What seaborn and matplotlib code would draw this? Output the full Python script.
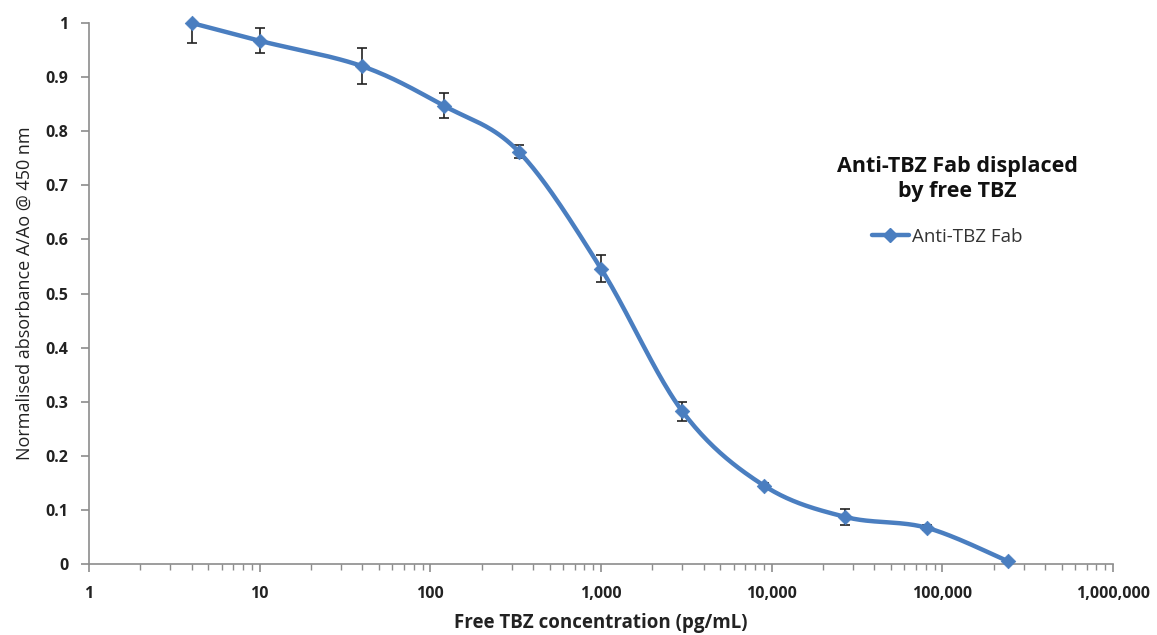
import numpy as np
import pandas as pd
import matplotlib
matplotlib.use("Agg")
import matplotlib.pyplot as plt
import seaborn as sns
from matplotlib.lines import Line2D
from matplotlib.ticker import FixedLocator, FuncFormatter, LogLocator, NullFormatter

# ---- data ----
conc = [4, 10, 40, 120, 330, 1000, 3000, 9000, 27000, 81000, 243000]
absorb = [1.0, 0.967, 0.920, 0.847, 0.762, 0.546, 0.282, 0.145, 0.087, 0.067, 0.005]
err = [0.037, 0.023, 0.033, 0.023, 0.012, 0.025, 0.018, 0.005, 0.014, 0.005, 0.002]
series_name = "Anti-TBZ Fab"
title_text = "Anti-TBZ Fab displaced\nby free TBZ"
x_label = "Free TBZ concentration (pg/mL)"
y_label = "Normalised absorbance A/Ao @ 450 nm"
y_ticks = [0, 0.1, 0.2, 0.3, 0.4, 0.5, 0.6, 0.7, 0.8, 0.9, 1]
x_ticks = [1, 10, 100, 1000, 10000, 100000, 1000000]

sns.set_theme(style="white")
plt.rcParams["font.family"] = ["Open Sans", "DejaVu Sans"]

W, H = 1157, 635
fig = plt.figure(figsize=(W / 100, H / 100), dpi=100)
ax = fig.add_axes([89 / W, 1 - 564 / H, (1113 - 89) / W, (564 - 23) / H])
ax.set_xscale("log")
ax.set_xlim(1, 1e6)
ax.set_ylim(0, 1)

blue = "#4A7EC0"

# smooth curve (Excel-style Bezier smoothing) in approximate pixel space
aw, ah = 1113 - 89, 564 - 23
u = np.log10(conc) / 6 * aw
v = np.array(absorb) * ah
pts = np.column_stack([u, v])
n = len(pts)
curve = []
for i in range(n - 1):
    p0 = pts[i - 1] if i > 0 else pts[i]
    p1 = pts[i]
    p2 = pts[i + 1]
    p3 = pts[i + 2] if i + 2 < n else pts[i + 1]
    c1 = p1 + (p2 - p0) / 6
    c2 = p2 - (p3 - p1) / 6
    t = np.linspace(0, 1, 40)[:, None]
    seg = (1 - t) ** 3 * p1 + 3 * (1 - t) ** 2 * t * c1 + 3 * (1 - t) * t ** 2 * c2 + t ** 3 * p2
    curve.append(seg if i == 0 else seg[1:])
curve = np.vstack(curve)
smooth = pd.DataFrame({"x": 10 ** (curve[:, 0] / aw * 6), "y": curve[:, 1] / ah})

ax.errorbar(conc, absorb, yerr=err, fmt="none", ecolor="#222222", elinewidth=1.2,
            capsize=3.5, capthick=1.2, zorder=2, clip_on=True)
sns.lineplot(data=smooth, x="x", y="y", ax=ax, color=blue, linewidth=3.2,
             sort=False, estimator=None, zorder=3)
df = pd.DataFrame({"x": conc, "y": absorb})
sns.scatterplot(data=df, x="x", y="y", ax=ax, color=blue, marker="D", s=55,
                edgecolor=blue, linewidth=0.5, zorder=4, clip_on=False)

# axes styling
for s in ["top", "right"]:
    ax.spines[s].set_visible(False)
for s in ["left", "bottom"]:
    ax.spines[s].set_color("#8C8C8C")
    ax.spines[s].set_linewidth(1.2)
ax.xaxis.set_major_locator(FixedLocator(x_ticks))
ax.xaxis.set_minor_locator(LogLocator(base=10, subs=np.arange(2, 10)))
ax.xaxis.set_minor_formatter(NullFormatter())
ax.xaxis.set_major_formatter(FuncFormatter(lambda v, p: f"{int(round(v)):,}"))
ax.yaxis.set_major_locator(FixedLocator(y_ticks))
ax.yaxis.set_major_formatter(FuncFormatter(lambda v, p: f"{v:g}"))
ax.tick_params(axis="x", which="major", direction="out", length=6, width=1.2,
               color="#8C8C8C", bottom=True, pad=10)
ax.tick_params(axis="x", which="minor", direction="out", length=4, width=1,
               color="#8C8C8C", bottom=True)
ax.tick_params(axis="y", which="major", direction="out", length=6, width=1.2,
               color="#8C8C8C", left=True, pad=9)
for lab in ax.get_xticklabels() + ax.get_yticklabels():
    lab.set_fontweight("bold")
    lab.set_fontsize(11.5)
    lab.set_color("#222222")
ax.set_xlabel(x_label, fontsize=13.5, fontweight="bold", color="#222222", labelpad=8)
ax.set_ylabel(y_label, fontsize=13, color="#222222", labelpad=8,
              family=["Liberation Sans Narrow", "Open Sans", "DejaVu Sans"])

fig.text(957 / W, 1 - 179 / H, title_text, ha="center", va="center", fontsize=15.5,
         fontweight="bold", color="#111111", linespacing=1.2)
handle = Line2D([], [], color=blue, linewidth=3.2, marker="D", markersize=7)
leg = ax.legend([handle], [series_name], loc="center", bbox_to_anchor=(947 / W, 1 - 237 / H),
                bbox_transform=fig.transFigure, frameon=False, fontsize=13.5,
                handlelength=2.0, handletextpad=0.15)
for t in leg.get_texts():
    t.set_color("#333333")

fig.savefig("out.png", dpi=100)
